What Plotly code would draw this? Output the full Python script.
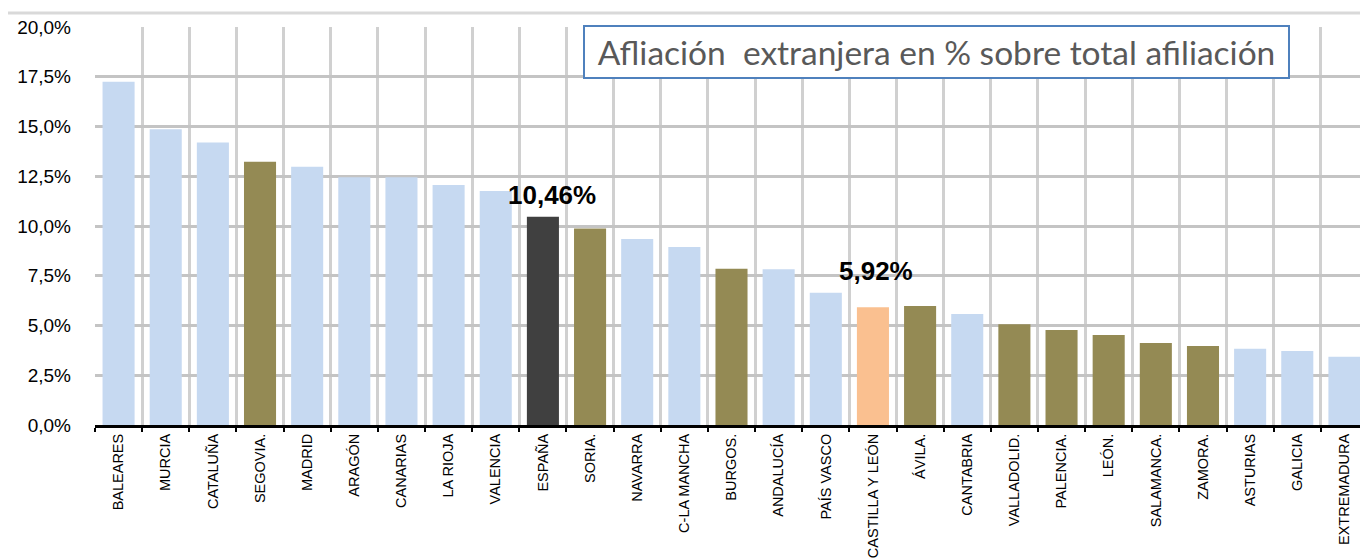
import plotly.graph_objects as go

categories = ["BALEARES", "MURCIA", "CATALUÑA", "SEGOVIA.", "MADRID", "ARAGÓN", "CANARIAS",
              "LA RIOJA", "VALENCIA", "ESPAÑA", "SORIA.", "NAVARRA", "C-LA MANCHA", "BURGOS.",
              "ANDALUCÍA", "PAÍS VASCO", "CASTILLA Y LEÓN", "ÁVILA.", "CANTABRIA", "VALLADOLID.",
              "PALENCIA.", "LEÓN.", "SALAMANCA.", "ZAMORA.", "ASTURIAS", "GALICIA", "EXTREMADURA"]
values = [17.25, 14.86, 14.19, 13.23, 12.98, 12.45, 12.45,
          12.06, 11.76, 10.46, 9.88, 9.35, 8.94, 7.85,
          7.83, 6.65, 5.92, 5.98, 5.58, 5.06,
          4.77, 4.52, 4.12, 3.97, 3.83, 3.72, 3.43]
# group: r = other region, p = province of Castilla y León, e = España, c = Castilla y León
groups = ["r", "r", "r", "p", "r", "r", "r",
          "r", "r", "e", "p", "r", "r", "p",
          "r", "r", "c", "p", "r", "p",
          "p", "p", "p", "p", "r", "r", "r"]
group_colors = {"r": "#C6D9F1", "p": "#948A54", "e": "#404040", "c": "#FAC090"}
highlight_labels = {"ESPAÑA": "10,46%", "CASTILLA Y LEÓN": "5,92%"}
title_text = "Afliación  extranjera en % sobre total afiliación"
y_ticks = [0, 2.5, 5, 7.5, 10, 12.5, 15, 17.5, 20]
y_ticktext = ["0,0%", "2,5%", "5,0%", "7,5%", "10,0%", "12,5%", "15,0%", "17,5%", "20,0%"]

fig = go.Figure()
fig.add_trace(go.Bar(
    x=categories, y=values,
    marker=dict(color=[group_colors[g] for g in groups], line=dict(width=0)),
    hoverinfo="x+y",
))

for cat, lab in highlight_labels.items():
    i = categories.index(cat)
    fig.add_annotation(x=cat, y=values[i], text="<b>" + lab + "</b>", showarrow=False,
                       yanchor="bottom", yshift=5 if cat == "ESPAÑA" else 19,
                       xshift=9 if cat == "ESPAÑA" else 3,
                       font=dict(family="Liberation Sans", size=26, color="#000000"))

fig.add_annotation(xref="paper", yref="paper", x=0.661, y=0.938, text=title_text,
                   showarrow=False, xanchor="center", yanchor="middle",
                   width=703, height=50, bgcolor="#FFFFFF", bordercolor="#4F81BD",
                   borderwidth=2, borderpad=0,
                   font=dict(family="Lato", size=33.5, color="#595959"))

# decorative top line
fig.add_shape(type="line", xref="paper", yref="paper", x0=-0.08, x1=1.0, y0=1.035, y1=1.035,
              line=dict(color="#D9D9D9", width=3), layer="below")

fig.update_layout(
    width=1360, height=551,
    margin=dict(l=87, r=0, t=19, b=134, autoexpand=False),
    paper_bgcolor="#FFFFFF", plot_bgcolor="#FFFFFF",
    bargap=0.32,
    showlegend=False,
    font=dict(family="Liberation Sans", color="#000000"),
)
fig.update_xaxes(
    type="category", tickson="boundaries", tickangle=-90, automargin=False,
    showgrid=True, gridcolor="#D0D0D0", gridwidth=3,
    showline=True, linecolor="#000000", linewidth=3,
    ticks="outside", ticklen=4, tickcolor="#000000", tickwidth=2,
    tickfont=dict(family="Liberation Sans", size=14.5, color="#000000"),
)
fig.update_yaxes(
    range=[0, 20], tickvals=y_ticks, ticktext=y_ticktext, automargin=False,
    showgrid=True, gridcolor="#C4C4C4", gridwidth=3,
    zeroline=False, showline=False, ticks="",
    tickfont=dict(family="Liberation Sans", size=19, color="#000000"),
    ticklabelstandoff=23,
)

fig.write_html("out.html")
